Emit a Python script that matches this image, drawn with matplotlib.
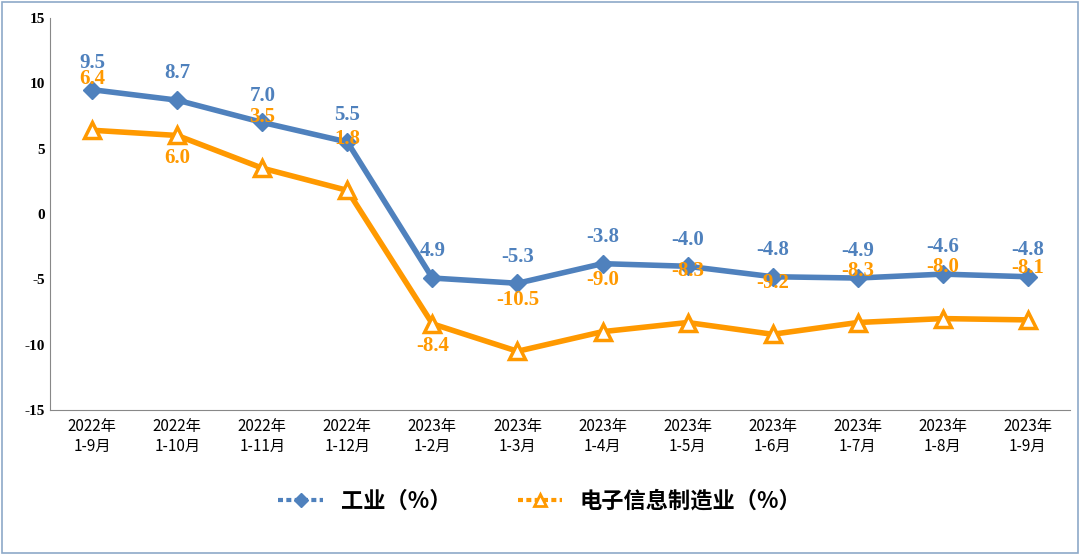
import matplotlib
matplotlib.use("Agg")
import matplotlib.pyplot as plt
from matplotlib.patches import Rectangle
from matplotlib.lines import Line2D

plt.rcParams['font.family'] = ['Noto Sans CJK SC', 'DejaVu Sans']

categories = ["2022年\n1-9月", "2022年\n1-10月", "2022年\n1-11月", "2022年\n1-12月",
              "2023年\n1-2月", "2023年\n1-3月", "2023年\n1-4月", "2023年\n1-5月",
              "2023年\n1-6月", "2023年\n1-7月", "2023年\n1-8月", "2023年\n1-9月"]
industry = [9.5, 8.7, 7.0, 5.5, -4.9, -5.3, -3.8, -4.0, -4.8, -4.9, -4.6, -4.8]
industry_labels = ["9.5", "8.7", "7.0", "5.5", "4.9", "-5.3", "-3.8", "-4.0", "-4.8", "-4.9", "-4.6", "-4.8"]
electronics = [6.4, 6.0, 3.5, 1.8, -8.4, -10.5, -9.0, -8.3, -9.2, -8.3, -8.0, -8.1]
elec_label_above = [True, False, True, True, False, True, True, True, True, True, True, True]

blue = "#4F81BD"
orange = "#FF9900"

fig = plt.figure(figsize=(10.8, 5.55), dpi=100)
ax = fig.add_axes([0.046, 0.261, 0.945, 0.707])
x = list(range(len(categories)))
ax.plot(x, industry, color=blue, lw=4, marker="D", ms=9, zorder=3)
ax.plot(x, electronics, color=orange, lw=4, marker="^", ms=11, markerfacecolor="white",
        markeredgewidth=2.5, zorder=3)

serif = dict(family="Liberation Serif", fontweight="bold", fontsize=15)
for xi, v, t in zip(x, industry, industry_labels):
    ax.annotate(t, (xi, v), xytext=(0, 12), textcoords="offset points", ha="center",
                va="bottom", color=blue, **serif)
for xi, v, up in zip(x, electronics, elec_label_above):
    if up:
        ax.annotate(f"{v:.1f}", (xi, v), xytext=(0, 30), textcoords="offset points",
                    ha="center", va="bottom", color=orange, **serif)
    else:
        ax.annotate(f"{v:.1f}", (xi, v), xytext=(0, -9), textcoords="offset points",
                    ha="center", va="top", color=orange, **serif)

ax.set_xlim(-0.5, len(categories) - 0.5)
ax.set_ylim(-15, 15)
ax.set_yticks(range(-15, 16, 5))
ax.set_yticklabels([str(v) for v in range(-15, 16, 5)], family="Liberation Serif",
                   fontweight="bold", fontsize=11)
ax.set_xticks(x)
ax.set_xticklabels(categories, fontsize=11)
for s in ["top", "right"]:
    ax.spines[s].set_visible(False)
ax.spines["left"].set_color("#888888")
ax.spines["bottom"].set_color("#888888")
ax.tick_params(axis="x", length=0, pad=6)
ax.tick_params(axis="y", length=0)

handles = [
    Line2D([], [], color=blue, lw=3, ls=(0, (1.2, 0.8)), marker="D", ms=7),
    Line2D([], [], color=orange, lw=3, ls=(0, (1.2, 0.8)), marker="^", ms=8,
           markerfacecolor="white", markeredgewidth=2),
]
fig.legend(handles, ["工业（%）", "电子信息制造业（%）"], loc="lower center",
           bbox_to_anchor=(0.5, 0.04), ncol=2, frameon=False,
           prop={"family": ["Noto Sans CJK SC"], "weight": "bold", "size": 16},
           handlelength=2, columnspacing=3)
fig.patches.append(Rectangle((0.002, 0.003), 0.996, 0.994, transform=fig.transFigure,
                             fill=False, edgecolor="#8EA9C8", lw=1.2))
fig.savefig("out.png", dpi=100)
